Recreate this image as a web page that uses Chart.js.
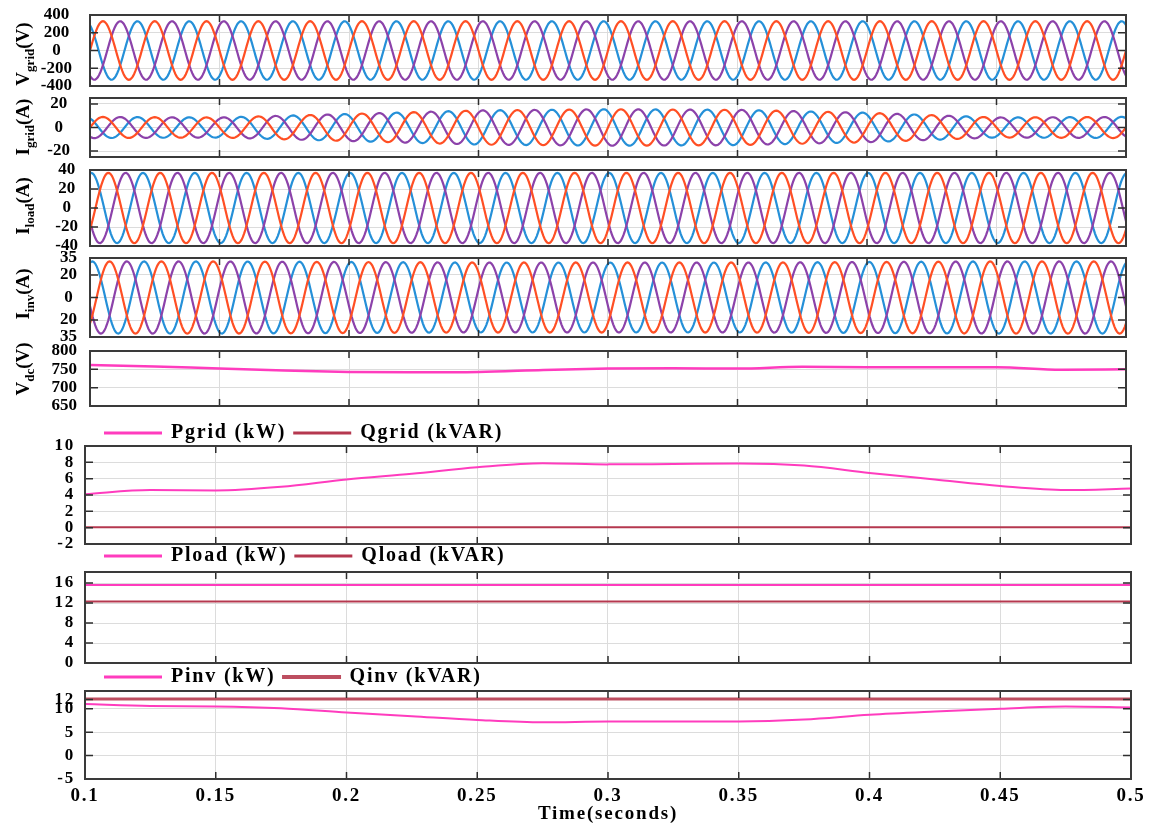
<!DOCTYPE html>
<html>
<head>
<meta charset="utf-8">
<script src="https://cdn.jsdelivr.net/npm/chart.js@4.4.1/dist/chart.umd.min.js"></script>
<style>
  html, body { margin: 0; padding: 0; background: #fff; }
  #fig { position: relative; width: 1153px; height: 825px; overflow: hidden; }
  #fig canvas { position: absolute; left: 0; }
  .ylab {
    position: absolute; white-space: nowrap; color: #000;
    font: bold 19px "Liberation Serif", "Times New Roman", serif; line-height: 19px;
    transform: translate(-50%, -50%) rotate(-90deg);
  }
  .ylab sub { font-size: 13px; line-height: 0; vertical-align: -5px; }
</style>
</head>
<body>
<div id="fig"></div>
<script>
// x axis
const timeTicks = [0.1, 0.15, 0.2, 0.25, 0.3, 0.35, 0.4, 0.45, 0.5];

// three-phase traces: frequency, peak envelope and phase
const gridFreq = 50;
const envTimes = [0.1, 0.15, 0.2, 0.25, 0.3, 0.35, 0.4, 0.45, 0.5];
const vgridPeak = [330, 330, 330, 330, 330, 330, 330, 330, 330];
const igridPeak = [9, 8.5, 11.5, 14.5, 15.5, 15, 12.5, 8.5, 9];
const iloadPeak = [37, 37, 37, 37, 37, 37, 37, 37, 37];
const iinvPeak = [32, 32, 31.5, 31, 31, 31, 31.5, 32, 32];
// angle of phase a at t = 0.1 s, degrees (b = a + 120, c = a - 120)
const vgridPhase = 0;
const igridPhase = 0;
const iloadPhase = -38;
const iinvPhase = -46;

// slow quantities
const slowTimes = [0.1, 0.125, 0.15, 0.175, 0.2, 0.225, 0.25, 0.275, 0.3, 0.325, 0.35, 0.375, 0.4, 0.425, 0.45, 0.475, 0.5];
const vdc   = [762, 758, 752, 747, 743, 742, 743, 748, 752, 753, 752, 757, 756, 756, 756, 749, 750];
const pgrid = [4.1, 4.6, 4.55, 5.0, 5.9, 6.6, 7.4, 7.9, 7.75, 7.8, 7.85, 7.6, 6.7, 5.9, 5.1, 4.6, 4.8];
const qgrid = [0.05, 0.05, 0.05, 0.05, 0.05, 0.05, 0.05, 0.05, 0.05, 0.05, 0.05, 0.05, 0.05, 0.05, 0.05, 0.05, 0.05];
const pload = [15.6, 15.6, 15.6, 15.6, 15.6, 15.6, 15.6, 15.6, 15.6, 15.6, 15.6, 15.6, 15.6, 15.6, 15.6, 15.6, 15.6];
const qload = [12.3, 12.3, 12.3, 12.3, 12.3, 12.3, 12.3, 12.3, 12.3, 12.3, 12.3, 12.3, 12.3, 12.3, 12.3, 12.3, 12.3];
const pinv  = [11.0, 10.6, 10.5, 10.1, 9.2, 8.4, 7.6, 7.1, 7.3, 7.3, 7.3, 7.7, 8.7, 9.4, 10.0, 10.5, 10.3];
const qinv  = [12.1, 12.1, 12.1, 12.1, 12.1, 12.1, 12.1, 12.1, 12.1, 12.1, 12.1, 12.1, 12.1, 12.1, 12.1, 12.1, 12.1];

// y ticks
const vgridTicks = [-400, -200, 0, 200, 400];
const igridTicks = [-20, 0, 20];
const iloadTicks = [-40, -20, 0, 20, 40];
const iinvTicks = [-35, -20, 0, 20, 35];
const iinvTickLabels = ["35", "20", "0", "20", "35"]; // printed like this in the figure
const vdcTicks = [650, 700, 750, 800];
const pgridTicks = [-2, 0, 2, 4, 6, 8, 10];
const ploadTicks = [0, 4, 8, 12, 16];
const pinvTicks = [-5, 0, 5, 10, 12];

const SERIF = '"Liberation Serif", "Times New Roman", serif';
const RED = "#ff4f24", PURPLE = "#8c42aa", BLUE = "#2590d8";
const PINK = "#ff3cbe", MAROON = "#b5384f";

function envelope(peaks, t) {
  for (let i = 0; i < envTimes.length - 1; i++) {
    if (t <= envTimes[i + 1]) {
      const f = (t - envTimes[i]) / (envTimes[i + 1] - envTimes[i]);
      return peaks[i] + f * (peaks[i + 1] - peaks[i]);
    }
  }
  return peaks[peaks.length - 1];
}

function threePhase(peaks, phaseDeg) {
  const a = [], b = [], c = [];
  const shift = (2 * Math.PI) / 3;
  for (let k = 0; k <= 800; k++) {
    const t = 0.1 + k * 0.0005;
    const amp = envelope(peaks, t);
    const th = 2 * Math.PI * gridFreq * (t - 0.1) + (phaseDeg * Math.PI) / 180;
    a.push({ x: t, y: amp * Math.sin(th) });
    b.push({ x: t, y: amp * Math.sin(th + shift) });
    c.push({ x: t, y: amp * Math.sin(th - shift) });
  }
  return [
    { label: "a", data: a, color: RED, width: 2.2 },
    { label: "c", data: c, color: PURPLE, width: 2.2 },
    { label: "b", data: b, color: BLUE, width: 2.2 },
  ];
}

function slow(arr) {
  return slowTimes.map((t, i) => ({ x: t, y: arr[i] }));
}

// box + inward tick marks, MATLAB style
const boxPlugin = {
  id: "box",
  afterDraw(chart) {
    const { ctx, chartArea: a } = chart;
    const x = chart.scales.x, y = chart.scales.y;
    ctx.save();
    ctx.strokeStyle = "#2e2e2e";
    ctx.lineWidth = 1.5;
    ctx.beginPath();
    x.ticks.forEach((t) => {
      const px = x.getPixelForValue(t.value);
      ctx.moveTo(px, a.top); ctx.lineTo(px, a.top + 7);
      ctx.moveTo(px, a.bottom); ctx.lineTo(px, a.bottom - 7);
    });
    y.ticks.forEach((t) => {
      const py = y.getPixelForValue(t.value);
      ctx.moveTo(a.left, py); ctx.lineTo(a.left + 8, py);
      ctx.moveTo(a.right, py); ctx.lineTo(a.right - 8, py);
    });
    ctx.stroke();
    ctx.strokeStyle = "#3a3a3a";
    ctx.lineWidth = 2;
    ctx.strokeRect(a.left, a.top, a.right - a.left, a.bottom - a.top);
    ctx.restore();
  },
};

// the lower panels have widely set text
const spacingPlugin = {
  id: "spacing",
  beforeUpdate(chart, args, opts) { chart.ctx.letterSpacing = (opts.px || 0) + "px"; },
  beforeDraw(chart, args, opts) { chart.ctx.letterSpacing = (opts.px || 0) + "px"; },
};

const legendShiftPlugin = {
  id: "legendShift",
  afterLayout(chart, args, opts) {
    if (chart.legend && opts.dx) chart.legend.left += opts.dx;
  },
};

const panels = [
  { top: 15, bottom: 86, left: 90, right: 1126, min: -400, max: 400, ticks: vgridTicks, tickPad: 18,
    series: () => threePhase(vgridPeak, vgridPhase) },
  { top: 98, bottom: 157, left: 90, right: 1126, min: -25, max: 25, ticks: igridTicks, tickPad: 20,
    series: () => threePhase(igridPeak, igridPhase) },
  { top: 170, bottom: 246, left: 90, right: 1126, min: -40, max: 40, ticks: iloadTicks, tickPad: 12,
    series: () => threePhase(iloadPeak, iloadPhase) },
  { top: 258, bottom: 337, left: 90, right: 1126, min: -35, max: 35, ticks: iinvTicks, tickLabels: iinvTickLabels, tickPad: 13,
    series: () => threePhase(iinvPeak, iinvPhase) },
  { top: 351, bottom: 406, left: 90, right: 1126, min: 650, max: 800, ticks: vdcTicks, tickPad: 13,
    series: () => [{ label: "Vdc", data: slow(vdc), color: PINK, width: 2.5, smooth: true }] },
  { top: 446, bottom: 544, left: 85, right: 1131, min: -2, max: 10, ticks: pgridTicks, tickPad: 10, legendGap: 13,
    series: () => [
      { label: "Pgrid (kW)", data: slow(pgrid), color: PINK, smooth: true },
      { label: "Qgrid (kVAR)", data: slow(qgrid), color: MAROON, smooth: true },
    ] },
  { top: 572, bottom: 663, left: 85, right: 1131, min: 0, max: 18.2, ticks: ploadTicks, tickPad: 10, legendGap: 16,
    series: () => [
      { label: "Pload (kW)", data: slow(pload), color: PINK, smooth: true },
      { label: "Qload (kVAR)", data: slow(qload), color: MAROON, smooth: true },
    ] },
  { top: 691, bottom: 779, left: 85, right: 1131, min: -5, max: 13.8, ticks: pinvTicks, tickPad: 10, legendGap: 14, xTitle: true,
    series: () => [
      { label: "Pinv (kW)", data: slow(pinv), color: PINK, smooth: true },
      { label: "Qinv (kVAR)", data: slow(qinv), color: "#bd4e60", width: 3, smooth: true },
    ] },
];

function panelConfig(p) {
  const showX = !!p.xTitle;
  const hasLegend = p.legendGap !== undefined;
  return {
    type: "line",
    data: {
      datasets: p.series().map((s) => ({
        label: s.label,
        data: s.data,
        borderColor: s.color,
        backgroundColor: s.color,
        borderWidth: s.width || 2,
        pointRadius: 0,
        tension: s.smooth ? 0.4 : 0,
        cubicInterpolationMode: s.smooth ? "monotone" : "default",
      })),
    },
    options: {
      responsive: false,
      animation: false,
      events: [],
      layout: { padding: { left: 0, right: 1153 - p.right, top: hasLegend ? 0 : 12, bottom: showX ? 0 : 12 } },
      scales: {
        x: {
          type: "linear", min: 0.1, max: 0.5,
          afterBuildTicks: (s) => { s.ticks = timeTicks.map((v) => ({ value: v })); },
          afterFit: (s) => { s.height = showX ? 46 : 0; s.paddingLeft = 0; s.paddingRight = 0; },
          grid: { color: "#dcdcdc", drawTicks: false },
          border: { display: false },
          ticks: {
            display: showX, padding: 6, maxRotation: 0, autoSkip: false, color: "#000",
            font: { family: SERIF, weight: "bold", size: 19 },
            callback: (v) => String(v),
          },
          title: {
            display: showX, text: "Time(seconds)", color: "#000", padding: 0,
            font: { family: SERIF, weight: "bold", size: 19 },
          },
        },
        y: {
          min: p.min, max: p.max,
          afterBuildTicks: (s) => { s.ticks = p.ticks.map((v) => ({ value: v })); },
          afterFit: (s) => { s.width = p.left; s.paddingTop = 0; s.paddingBottom = 0; },
          grid: { color: "#dcdcdc", drawTicks: false },
          border: { display: false },
          ticks: {
            padding: p.tickPad, autoSkip: false, color: "#000",
            crossAlign: hasLegend ? "near" : "center",
            font: { family: SERIF, weight: "bold", size: 17 },
            callback: (v, i) => (p.tickLabels ? p.tickLabels[i] : String(v)),
          },
        },
      },
      plugins: {
        legend: hasLegend
          ? {
              display: true, position: "top", align: "start", fullSize: false,
              maxHeight: 8 + 10 + p.legendGap,
              labels: {
                boxWidth: 56, boxHeight: 1, padding: 8, color: "#000",
                font: { family: SERIF, weight: "bold", size: 20 },
              },
            }
          : { display: false },
        tooltip: { enabled: false },
        spacing: { px: hasLegend ? 1.8 : 0 },
        legendShift: { dx: 12 },
      },
    },
    plugins: [boxPlugin, spacingPlugin, legendShiftPlugin],
  };
}

const fig = document.getElementById("fig");

panels.forEach((p) => {
  const canvas = document.createElement("canvas");
  fig.appendChild(canvas);
  canvas.width = 1153;
  canvas.height = 200;
  // first pass only to learn how much room the legend and axes take
  let chart = new Chart(canvas, panelConfig(p));
  const extra = chart.height - (chart.chartArea.bottom - chart.chartArea.top);
  chart.destroy();
  canvas.width = 1153;
  canvas.height = Math.round(p.bottom - p.top + extra);
  chart = new Chart(canvas, panelConfig(p));
  canvas.style.top = p.top - chart.chartArea.top + "px";
});

// y axis titles with subscripts
const yLabels = [
  { html: "V<sub>grid</sub>(V)", y: 54 },
  { html: "I<sub>grid</sub>(A)", y: 127 },
  { html: "I<sub>load</sub>(A)", y: 206 },
  { html: "I<sub>inv</sub>(A)", y: 294 },
  { html: "V<sub>dc</sub>(V)", y: 369 },
];
yLabels.forEach((l) => {
  const d = document.createElement("div");
  d.className = "ylab";
  d.innerHTML = l.html;
  d.style.left = "22px";
  d.style.top = l.y + "px";
  fig.appendChild(d);
});
</script>
</body>
</html>
